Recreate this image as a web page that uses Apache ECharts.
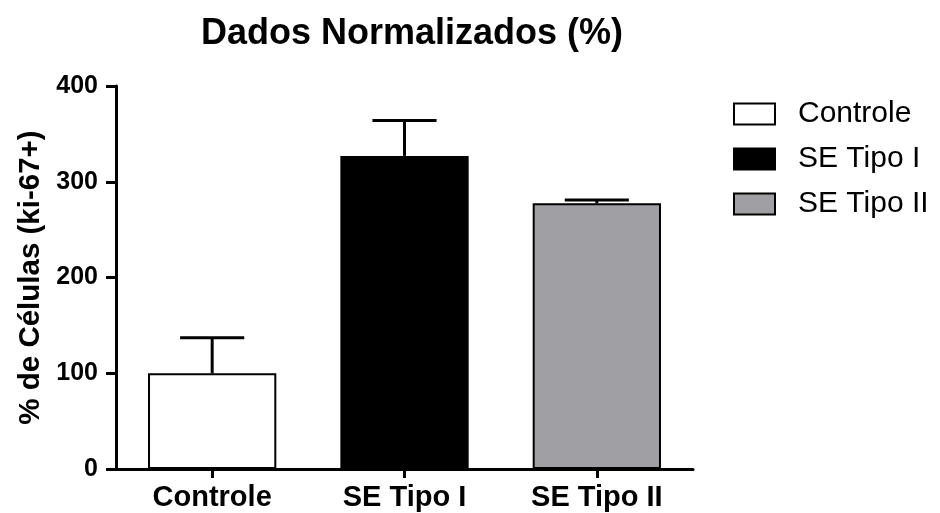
<!DOCTYPE html>
<html>
<head>
<meta charset="utf-8">
<style>
  html, body { margin: 0; padding: 0; background: #ffffff; }
  #chart { width: 940px; height: 513px; }
</style>
<script src="https://cdn.jsdelivr.net/npm/echarts@6/dist/echarts.min.js"></script>
</head>
<body>
<div id="chart"></div>
<script>
// Categories and values (% of Ki-67+ cells, normalised to the control)
const categories = ['Controle', 'SE Tipo I', 'SE Tipo II'];
const seriesNames = ['Controle', 'SE Tipo I', 'SE Tipo II'];
const means = [100, 327, 277.5];
const upperErrors = [137, 364, 281];
const yTicks = [0, 100, 200, 300, 400];

const fills = ['#ffffff', '#000000', '#a09fa4'];
const font = 'Liberation Sans, Arial, Helvetica, sans-serif';

const chart = echarts.init(document.getElementById('chart'), null, { renderer: 'canvas' });

// One bar series per group so each gets its own legend entry
const barSeries = seriesNames.map((name, i) => ({
  name: name,
  type: 'bar',
  barWidth: '66.7%',
  barGap: '-100%',
  data: categories.map((c, j) => (j === i ? means[j] : null)),
  itemStyle: { color: fills[i], borderColor: '#000', borderWidth: 2 },
  emphasis: { disabled: true },
  z: 2
}));

// Upward error bars (mean -> mean + SEM) with a cap
const errorSeries = {
  type: 'custom',
  name: 'erro',
  data: categories.map((c, j) => [j, means[j], upperErrors[j]]),
  renderItem: function (params, api) {
    const x = api.value(0);
    const base = api.coord([x, api.value(1)]);
    const top = api.coord([x, api.value(2)]);
    const half = api.size([1, 0])[0] / 6;
    const style = { stroke: '#000', lineWidth: 3, lineCap: 'butt' };
    return {
      type: 'group',
      children: [
        { type: 'line', shape: { x1: base[0], y1: base[1], x2: top[0], y2: top[1] }, style: style },
        { type: 'line', shape: { x1: top[0] - half, y1: top[1], x2: top[0] + half, y2: top[1] }, style: style }
      ]
    };
  },
  z: 3,
  silent: true
};

chart.setOption({
  animation: false,
  backgroundColor: '#ffffff',
  title: {
    text: 'Dados Normalizados (%)',
    left: 407,
    top: 11,
    textAlign: 'center',
    textStyle: { fontFamily: font, fontSize: 36, fontWeight: 'bold', color: '#000' }
  },
  legend: {
    data: seriesNames,
    orient: 'vertical',
    left: 733,
    top: 99,
    padding: 0,
    itemWidth: 41,
    itemHeight: 21,
    itemGap: 15,
    icon: 'rect',
    textStyle: { fontFamily: font, fontSize: 30, color: '#000', padding: [0, 0, 0, 18] },
    selectedMode: false
  },
  grid: { left: 116, top: 86, width: 577, height: 383, containLabel: false },
  xAxis: {
    type: 'category',
    data: categories,
    axisLine: { show: true, lineStyle: { color: '#000', width: 3 } },
    axisTick: { show: true, alignWithLabel: true, length: 9, lineStyle: { color: '#000', width: 3 } },
    axisLabel: { fontFamily: font, fontSize: 29, fontWeight: 'bold', color: '#000', margin: 14 },
    splitLine: { show: false }
  },
  yAxis: {
    type: 'value',
    min: yTicks[0],
    max: yTicks[yTicks.length - 1],
    interval: 100,
    name: '% de Células (ki-67+)',
    nameLocation: 'middle',
    nameRotate: 90,
    nameGap: 63,
    nameTextStyle: { fontFamily: font, fontSize: 29.5, fontWeight: 'bold', color: '#000' },
    axisLine: { show: true, lineStyle: { color: '#000', width: 3 } },
    axisTick: { show: true, length: 10, lineStyle: { color: '#000', width: 3 } },
    axisLabel: { fontFamily: font, fontSize: 25, fontWeight: 'bold', color: '#000', margin: 18 },
    splitLine: { show: false }
  },
  series: barSeries.concat([errorSeries])
});
</script>
</body>
</html>
